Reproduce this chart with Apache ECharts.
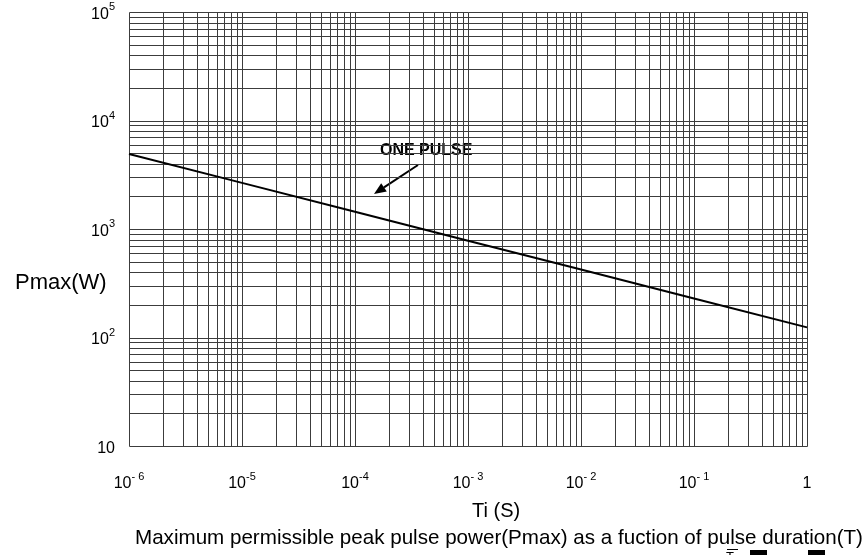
<!DOCTYPE html>
<html style="height: 100%">
<head>
    <meta charset="utf-8">
    <title>Pmax vs Ti</title>
    <script type="text/javascript" src="https://cdn.jsdelivr.net/npm/echarts@6/dist/echarts.min.js"></script>
</head>
<body style="height: 100%; margin: 0; background: #fff;">
<div id="container" style="width: 867px; height: 555px"></div>
<script type="text/javascript">
    // pulse duration (s) and max peak power (W)
    var pulseTime = [1e-6, 1e-5, 1e-4, 1e-3, 1e-2, 1e-1, 1];
    var peakPower = [4910, 2660, 1440, 780, 423, 229, 124];

    // tick labels, '^' marks the exponent part
    var xTickLabels = ['10^- 6', '10^-5', '10^-4', '10^- 3', '10^- 2', '10^- 1', '1'];
    var yTickLabels = ['10', '10^2', '10^3', '10^4', '10^5'];

    var FONT = 'Liberation Sans, Arial, sans-serif';
    var X_MIN = 1e-6, X_MAX = 1, Y_MIN = 10, Y_MAX = 1e5;

    //把 10^n 变成富文本
    function toRich(txt) {
        var p = txt.split('^');
        if (p.length == 1) return '{b|' + p[0] + '}';
        return '{b|' + p[0] + '}{s|' + p[1] + '}';
    }
    var richStyle = {
        b: {fontSize: 16, fontFamily: FONT, color: '#000', lineHeight: 21, verticalAlign: 'bottom'},
        s: {fontSize: 11, fontFamily: FONT, color: '#000', lineHeight: 21, verticalAlign: 'top'}
    };

    // grid lines 1..9 per decade : [dir, value]
    var gridLines = [];
    for (var e = -6; e < 0; e++) {
        for (var m = 1; m < 10; m++) gridLines.push(['x', m * Math.pow(10, e)]);
    }
    gridLines.push(['x', 1]);
    for (var e2 = 1; e2 < 5; e2++) {
        for (var m2 = 1; m2 < 10; m2++) gridLines.push(['y', m2 * Math.pow(10, e2)]);
    }
    gridLines.push(['y', 1e5]);

    var lineData = [];
    for (var i = 0; i < pulseTime.length; i++) {
        lineData.push([pulseTime[i], peakPower[i]]);
    }

    function renderGrid(params, api) {
        var g = gridLines[params.dataIndex];
        var p1, p2;
        if (g[0] == 'x') {
            p1 = api.coord([g[1], Y_MIN]);
            p2 = api.coord([g[1], Y_MAX]);
        } else {
            p1 = api.coord([X_MIN, g[1]]);
            p2 = api.coord([X_MAX, g[1]]);
        }
        // 对齐到半像素，线条更清楚
        var x1 = Math.round(p1[0]) + 0.5, x2 = Math.round(p2[0]) + 0.5;
        var y1 = Math.round(p1[1]) + 0.5, y2 = Math.round(p2[1]) + 0.5;
        return {
            type: 'line',
            shape: {x1: x1, y1: y1, x2: x2, y2: y2},
            style: {stroke: '#3c3c3c', lineWidth: 1}
        };
    }

    var myChart = echarts.init(document.getElementById('container'));
    var option = {
        animation: false,
        grid: {left: 129, right: 60, top: 12, bottom: 109, show: false},
        xAxis: {
            type: 'log',
            logBase: 10,
            min: X_MIN,
            max: X_MAX,
            interval: 1,
            splitNumber: 6,
            axisLine: {show: false},
            axisTick: {show: false},
            splitLine: {show: false},
            axisLabel: {
                margin: 25,
                formatter: function (v) {
                    var idx = Math.round(Math.log10(v)) + 6;
                    return toRich(xTickLabels[idx] || '');
                },
                rich: richStyle
            }
        },
        yAxis: {
            type: 'log',
            logBase: 10,
            min: Y_MIN,
            max: Y_MAX,
            interval: 1,
            splitNumber: 4,
            axisLine: {show: false},
            axisTick: {show: false},
            splitLine: {show: false},
            axisLabel: {
                margin: 14,
                formatter: function (v) {
                    var idx = Math.round(Math.log10(v)) - 1;
                    return toRich(yTickLabels[idx] || '');
                },
                rich: richStyle
            }
        },
        series: [
            {
                type: 'custom',
                silent: true,
                clip: false,
                renderItem: renderGrid,
                data: gridLines.map(function (g, k) { return [k]; })
            },
            {
                type: 'line',
                z: 5,
                data: lineData,
                showSymbol: false,
                lineStyle: {color: '#000', width: 2},
                silent: true
            }
        ],
        graphic: [
            {type: 'text', left: 15, top: 272, style: {text: 'Pmax(W)', font: '22px ' + FONT, fill: '#000'}},
            {type: 'text', left: 472, top: 501, style: {text: 'Ti (S)', font: '20px ' + FONT, fill: '#000'}},
            {type: 'text', left: 135, top: 528, style: {text: 'Maximum permissible peak pulse power(Pmax) as a fuction of pulse duration(T)', font: '20.6px ' + FONT, fill: '#000'}},
            {type: 'text', left: 380, top: 143, style: {text: 'ONE PULSE', font: 'bold 16px ' + FONT, fill: '#000'}},
            {type: 'line', shape: {x1: 418, y1: 165, x2: 384, y2: 187.4}, style: {stroke: '#000', lineWidth: 2}},
            {type: 'polygon', shape: {points: [[374, 194], [386.8, 191.6], [381.2, 183.2]]}, style: {fill: '#000'}},
            // cut-off bits at the bottom edge
            {type: 'line', shape: {x1: 727, y1: 549.5, x2: 738, y2: 549.5}, style: {stroke: '#000', lineWidth: 1}},
            {type: 'text', left: 726, top: 551, style: {text: 'T', font: '13px ' + FONT, fill: '#000'}},
            {type: 'rect', shape: {x: 750, y: 550, width: 17, height: 6}, style: {fill: '#000'}},
            {type: 'rect', shape: {x: 808, y: 550, width: 17, height: 6}, style: {fill: '#000'}}
        ]
    };
    myChart.setOption(option);
</script>
</body>
</html>
